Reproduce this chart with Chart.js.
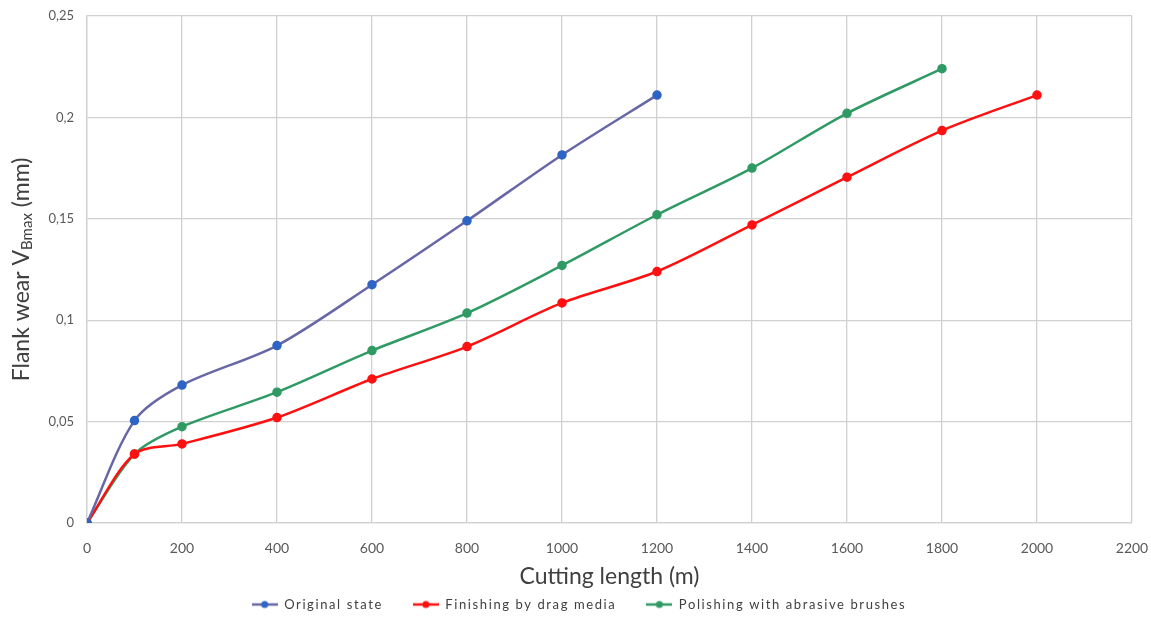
<!DOCTYPE html>
<html>
<head>
<meta charset="utf-8">
<script src="https://cdn.jsdelivr.net/npm/chart.js@4"></script>
<style>
  html, body { margin: 0; padding: 0; background: #fff; }
</style>
</head>
<body>
<canvas id="wearChart" width="1151" height="617"></canvas>
<script>
// cutting length (m) and flank wear VBmax (mm)
const lengthsOriginal = [0, 100, 200, 400, 600, 800, 1000, 1200];
const wearOriginal = [0, 0.0505, 0.068, 0.0875, 0.1175, 0.149, 0.1815, 0.211];

const lengthsDrag = [0, 100, 200, 400, 600, 800, 1000, 1200, 1400, 1600, 1800, 2000];
const wearDrag = [0, 0.034, 0.039, 0.052, 0.071, 0.087, 0.1085, 0.124, 0.147, 0.1705, 0.1935, 0.211];

const lengthsBrush = [0, 100, 200, 400, 600, 800, 1000, 1200, 1400, 1600, 1800];
const wearBrush = [0, 0.034, 0.0475, 0.0645, 0.085, 0.1035, 0.127, 0.152, 0.175, 0.202, 0.224];

const seriesNames = ["Original state", "Finishing by drag media", "Polishing with abrasive brushes"];
const xTitle = "Cutting length (m)";
const yTitleParts = ["Flank wear V", "Bmax", " (mm)"];

const textColor = "#404040";
const tickColor = "#595959";
const gridColor = "#d0d0d0";

function toPoints(xs, ys) {
  return xs.map((x, i) => ({ x: x, y: ys[i] }));
}

// little line + dot swatch for the legend
function legendMark(lineColor, dotColor) {
  const c = document.createElement("canvas");
  c.width = 26;
  c.height = 10;
  const g = c.getContext("2d");
  g.strokeStyle = lineColor;
  g.lineWidth = 2.5;
  g.beginPath();
  g.moveTo(0, 5);
  g.lineTo(26, 5);
  g.stroke();
  g.fillStyle = dotColor;
  g.beginPath();
  g.arc(13, 5, 3.5, 0, Math.PI * 2);
  g.fill();
  return c;
}

const colors = [
  { line: "#6867a6", dot: "#2e64c4" },
  { line: "#ff1010", dot: "#ff1010" },
  { line: "#2f9a63", dot: "#2f9a63" }
];
const legendMarks = colors.map(c => legendMark(c.line, c.dot));

// vertical title with the subscript
const yTitlePlugin = {
  id: "yTitle",
  afterDraw(chart) {
    const { ctx, chartArea } = chart;
    const cy = (chartArea.top + chartArea.bottom) / 2;
    const big = "23px Lato", small = "15px Lato";
    ctx.save();
    ctx.translate(22, cy);
    ctx.rotate(-Math.PI / 2);
    ctx.fillStyle = textColor;
    ctx.textAlign = "left";
    ctx.textBaseline = "middle";
    ctx.font = big;
    const w1 = ctx.measureText(yTitleParts[0]).width;
    const w3 = ctx.measureText(yTitleParts[2]).width;
    ctx.font = small;
    const w2 = ctx.measureText(yTitleParts[1]).width;
    let x = -(w1 + w2 + w3) / 2;
    ctx.font = big;
    ctx.fillText(yTitleParts[0], x, 0);
    x += w1;
    ctx.font = small;
    ctx.fillText(yTitleParts[1], x, 5);
    x += w2;
    ctx.font = big;
    ctx.fillText(yTitleParts[2], x, 0);
    ctx.restore();
  }
};

// spaced-out legend text, kept in a thin strip at the bottom
const legendTweak = {
  id: "legendTweak",
  afterInit(chart) {
    const lg = chart.legend;
    const fit = lg.fit.bind(lg);
    const draw = lg.draw.bind(lg);
    lg.fit = function () {
      lg.ctx.save();
      lg.ctx.letterSpacing = "1.6px";
      fit();
      lg.ctx.restore();
      lg.height = 24;
    };
    lg.draw = function () {
      const pad = lg.options.labels.padding;
      const box = { top: lg.top, left: lg.left, right: lg.right };
      lg.top = 605 - 7 - pad;
      lg.left += 13;
      lg.right += 13;
      lg.ctx.save();
      lg.ctx.letterSpacing = "1.6px";
      draw();
      lg.ctx.restore();
      Object.assign(lg, box);
    };
  }
};

const ctx = document.getElementById("wearChart").getContext("2d");

new Chart(ctx, {
  type: "line",
  data: {
    datasets: [
      {
        label: seriesNames[0],
        data: toPoints(lengthsOriginal, wearOriginal),
        borderColor: colors[0].line,
        backgroundColor: colors[0].dot,
        pointBackgroundColor: colors[0].dot,
        pointBorderColor: colors[0].dot,
        borderWidth: 2.5,
        pointRadius: 3.5,
        tension: 0.3
      },
      {
        label: seriesNames[1],
        data: toPoints(lengthsDrag, wearDrag),
        borderColor: colors[1].line,
        backgroundColor: colors[1].dot,
        pointBackgroundColor: colors[1].dot,
        pointBorderColor: colors[1].dot,
        borderWidth: 2.5,
        pointRadius: 3.5,
        tension: 0.3
      },
      {
        label: seriesNames[2],
        data: toPoints(lengthsBrush, wearBrush),
        borderColor: colors[2].line,
        backgroundColor: colors[2].dot,
        pointBackgroundColor: colors[2].dot,
        pointBorderColor: colors[2].dot,
        borderWidth: 2.5,
        pointRadius: 3.5,
        tension: 0.3
      }
    ]
  },
  options: {
    responsive: false,
    animation: false,
    layout: { padding: { top: 16, right: 19, bottom: 0, left: 0 } },
    scales: {
      x: {
        type: "linear",
        min: 0,
        max: 2200,
        ticks: {
          stepSize: 200,
          color: tickColor,
          font: { family: "Lato", size: 14 },
          padding: 17,
          callback: v => String(v)
        },
        grid: { color: gridColor, lineWidth: 1.3, drawTicks: false },
        border: { color: gridColor, width: 1.3 },
        title: {
          display: true,
          text: xTitle,
          color: textColor,
          font: { family: "Lato", size: 23 },
          padding: { top: 0, bottom: 3 }
        },
        afterFit: s => {
          s.height = 70;
          s.paddingLeft = 0;
          s.paddingRight = 0;
        }
      },
      y: {
        min: 0,
        max: 0.25,
        ticks: {
          stepSize: 0.05,
          color: tickColor,
          font: { family: "Lato", size: 13 },
          padding: 13,
          callback: v => String(parseFloat(v.toFixed(2))).replace(".", ",")
        },
        grid: { color: gridColor, lineWidth: 1.3, drawTicks: false },
        border: { color: gridColor, width: 1.3 },
        afterFit: s => {
          s.width = 87;
          s.paddingTop = 0;
          s.paddingBottom = 0;
        }
      }
    },
    plugins: {
      tooltip: { enabled: false },
      legend: {
        position: "bottom",
        labels: {
          usePointStyle: true,
          pointStyleWidth: 26,
          padding: 30,
          color: textColor,
          font: { family: "Lato", size: 13 },
          generateLabels(chart) {
            const items = Chart.defaults.plugins.legend.labels.generateLabels(chart);
            items.forEach((it, i) => { it.pointStyle = legendMarks[i]; });
            return items;
          }
        }
      }
    }
  },
  plugins: [yTitlePlugin, legendTweak]
});
</script>
</body>
</html>
